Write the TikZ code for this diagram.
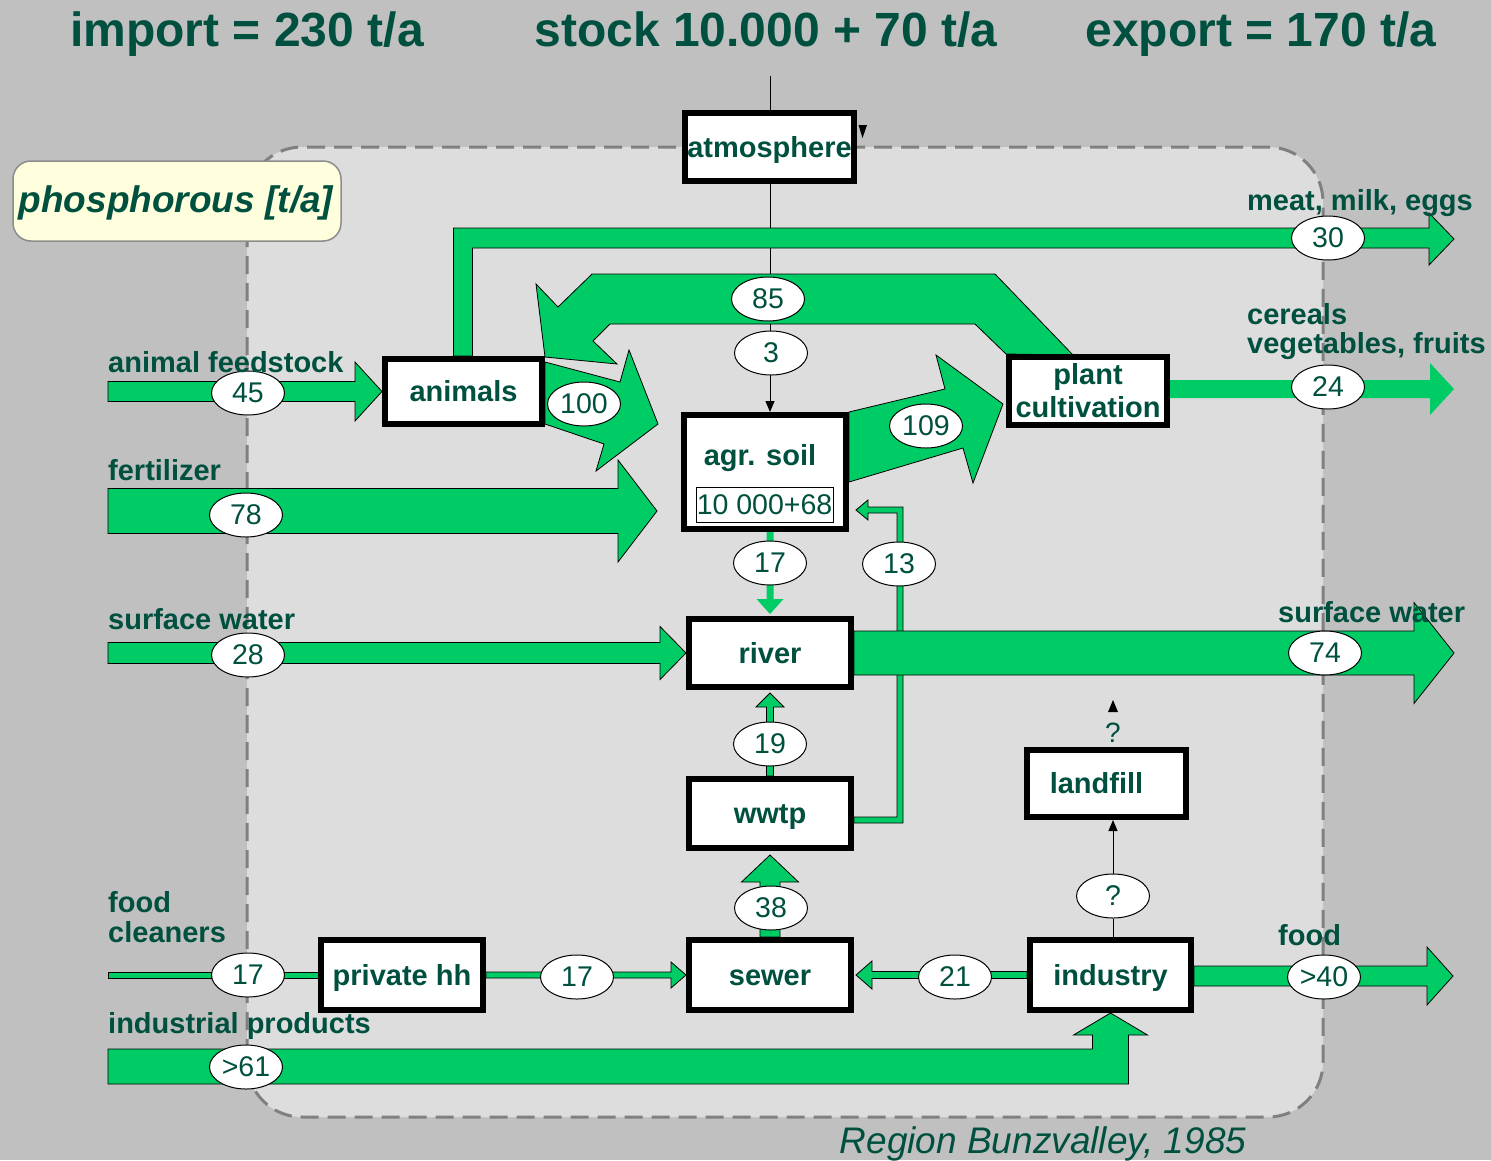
\documentclass[tikz,border=0pt]{standalone}
\usepackage{fontspec}
\setmainfont{Liberation Sans}
\usetikzlibrary{calc,shapes.geometric,arrows.meta}

\definecolor{bgouter}{RGB}{192,192,192}
\definecolor{bginner}{RGB}{221,221,221}
\definecolor{flowgreen}{RGB}{0,204,102}
\definecolor{txt}{RGB}{0,80,64}
\definecolor{dashgray}{RGB}{128,128,128}
\definecolor{notefill}{RGB}{255,255,222}

\pgfdeclarelayer{back}
\pgfdeclarelayer{flows}
\pgfsetlayers{back,flows,main}

% horizontal block arrow: tail point, tip point, shaft half width, head half width, head length (signed)
\newcommand{\hflow}[6][flow]{%
  \path[#1] let \p1=(#2), \p2=(#3) in
    ({\x1},{\y2+#4}) -- ({\x2-(#6)},{\y2+#4}) -- ({\x2-(#6)},{\y2+#5}) -- ({\x2},{\y2})
    -- ({\x2-(#6)},{\y2-#5}) -- ({\x2-(#6)},{\y2-#4}) -- ({\x1},{\y2-#4}) -- cycle;}
% vertical block arrow: tail point, tip point, shaft half width, head half width, head length (signed)
\newcommand{\vflow}[6][flow]{%
  \path[#1] let \p1=(#2), \p2=(#3) in
    ({\x2+#4},{\y1}) -- ({\x2+#4},{\y2-(#6)}) -- ({\x2+#5},{\y2-(#6)}) -- ({\x2},{\y2})
    -- ({\x2-#5},{\y2-(#6)}) -- ({\x2-#4},{\y2-(#6)}) -- ({\x2-#4},{\y1}) -- cycle;}

\begin{document}
\begin{tikzpicture}[x=1pt,y=-1pt,
  region/.style={fill=bginner,draw=dashgray,line width=3pt,dash pattern=on 18pt off 9pt,rounded corners=55pt},
  procbox/.style={draw=black,line width=6pt,fill=white,inner sep=0pt,text=txt,
    font=\fontsize{29}{34}\selectfont\bfseries,align=center},
  proc/.style={procbox,text height=20.5pt,text depth=0pt},
  num/.style={ellipse,draw=black,line width=1pt,fill=white,inner sep=0pt,
    minimum width=73pt,minimum height=44pt,text=txt,font=\fontsize{28.5}{30}\selectfont},
  lbl/.style={text=txt,font=\fontsize{29}{33}\selectfont\bfseries,inner sep=0pt,anchor=base west},
  headline/.style={text=txt,font=\fontsize{48}{50}\selectfont\bfseries,inner sep=0pt,anchor=base},
  flow/.style={fill=flowgreen,draw=black,line width=0.8pt,line join=miter},
  flownl/.style={fill=flowgreen,draw=none},
  thinline/.style={draw=black,line width=1pt},
  thinarrow/.style={thinline,-{Triangle[length=11pt,width=9pt]}}
]
\useasboundingbox (0,0) rectangle (1491,1160);

\begin{pgfonlayer}{back}
  \fill[bgouter] (0,0) rectangle (1491,1160);
  \draw[region] (247,147) rectangle (1323,1117);
\end{pgfonlayer}

% headlines
\node[headline] (imp) at (247,46) {import = 230 t/a};
\node[headline] (stk) at (766,46) {stock 10.000 + 70 t/a};
\node[headline] (exp) at (1261,46) {export = 170 t/a};

% unit note
\draw[draw={rgb,255:red,140;green,140;blue,140},line width=1.5pt,fill=notefill,rounded corners=18pt]
  (13,161) rectangle (341,241);
\node[text=txt,font=\fontsize{37}{40}\selectfont\bfseries\itshape,inner sep=0pt,anchor=base]
  (unit) at (176,212) {phosphorous [t/a]};

% processes
\node[proc,minimum width=169pt,minimum height=68pt] (atmo) at (769.5,147) {atmosphere};
\node[proc,minimum width=157pt,minimum height=65pt] (animals) at (463.5,391.5) {animals};
\node[proc,minimum width=162pt,minimum height=114pt] (soil) at (765,472) {};
\node[text=txt,font=\fontsize{29}{34}\selectfont\bfseries,inner sep=0pt,anchor=base] (soiltxt) at (760,465) {agr. soil};
\node[draw=black,line width=0.8pt,fill=white,inner sep=0pt,minimum width=137pt,minimum height=35pt,
  text=txt,font=\fontsize{28.5}{30}\selectfont] (soilstock) at (764.5,504.5) {10 000+68};
\node[procbox,minimum width=158pt,minimum height=68pt] (plant) at (1088,391) {plant\\[-1pt]cultivation};
\node[proc,minimum width=162pt,minimum height=68pt] (river) at (770,653) {river};
\node[proc,minimum width=162pt,minimum height=69pt] (wwtp) at (770,813.5) {wwtp};
\node[proc,minimum width=159pt,minimum height=67pt] (landfill) at (1106.5,783.5) {landfill\hspace*{20pt}};
\node[proc,minimum width=162pt,minimum height=70pt] (hh) at (402,975) {private hh};
\node[proc,minimum width=162pt,minimum height=70pt] (sewer) at (770,975) {sewer};
\node[proc,minimum width=161pt,minimum height=70pt] (industry) at (1110.5,975) {industry};

% free ends of the flows
\coordinate (atmtop) at (770,76);
\coordinate (feedsrc) at (108,393);
\coordinate (fertsrc) at (108,511);
\coordinate (ferttip) at (657,511);
\coordinate (swsrc) at (108,653);
\coordinate (swtip) at (1454,653);
\coordinate (meattip) at (1454,239);
\coordinate (croptip) at (1454,389);
\coordinate (fcsrc) at (108,975);
\coordinate (foodtip) at (1453,976);
\coordinate (ipsrc) at (108,1067);
\coordinate (r13) at (900,820);
\coordinate (t13) at (856,510);

% flow labels
\node[num] (n45) at (248,393) {45};
\node[num] (n78) at (246,515) {78};
\node[num] (n28) at (248,655) {28};
\node[num] (n17a) at (248,975) {17};
\node[num] (n61) at (246,1067) {>61};
\node[num] (n100) at (584,404) {100};
\node[num] (n85) at (768,299) {85};
\node[num] (n3) at (771,353) {3};
\node[num] (n109) at (926,426) {109};
\node[num] (n30) at (1328,238) {30};
\node[num] (n24) at (1328,387) {24};
\node[num] (n17b) at (770,563) {17};
\node[num] (n13) at (899,564) {13};
\node[num] (n74) at (1325,653) {74};
\node[num] (n19) at (770,744) {19};
\node[num] (n38) at (771,908) {38};
\node[num] (n17c) at (577,977) {17};
\node[num] (n21) at (955,977) {21};
\node[num] (nq) at (1113,896) {?};
\node[num] (n40) at (1324,977) {>40};

% flow names
\node[lbl] (l1) at (108,372) {animal feedstock};
\node[lbl] (l2) at (108,480) {fertilizer};
\node[lbl] (l3) at (108,629) {surface water};
\node[lbl] (l4) at (108,912) {food};
\node[lbl] (l5) at (108,942) {cleaners};
\node[lbl] (l6) at (108,1033) {industrial products};
\node[lbl] (r1) at (1247,210) {meat, milk, eggs};
\node[lbl] (r2) at (1247,324) {cereals};
\node[lbl] (r3) at (1247,353) {vegetables, fruits};
\node[lbl] (r4) at (1278,622) {surface water};
\node[lbl] (r5) at (1278,945) {food};
\node[text=txt,font=\fontsize{28}{30}\selectfont,inner sep=0pt] (lfq) at (1113,733) {?};
\node[text=txt,font=\fontsize{37}{40}\selectfont\itshape,inner sep=0pt,anchor=base] (region) at (1043,1153)
  {Region Bunzvalley, 1985};

\begin{pgfonlayer}{flows}
  % thin exchange lines
  \draw[thinarrow] (atmtop) -- (atmtop |- soil.north);
  \fill (858.5,125) -- (867,125) -- (862.5,138) -- cycle;
  \draw[thinline] (industry.north -| nq) -- (nq.south);
  \draw[thinarrow] (nq.north) -- (nq |- landfill.south);
  \fill (1108,712) -- (1118,712) -- (1113,700) -- cycle;

  % animals to export
  \path[flow] let \p1=(animals.north), \p2=(meattip) in
    ({\x1-10},{\y1}) -- ({\x1-10},{\y2+11}) -- ({\x2-25},{\y2+11}) -- ({\x2-25},{\y2+26}) -- ({\x2},{\y2})
    -- ({\x2-25},{\y2-26}) -- ({\x2-25},{\y2-9}) -- ({\x1+9},{\y2-9}) -- ({\x1+9},{\y1}) -- cycle;
  % plant cultivation back to animals
  \path[flow] ($(plant.north west)+(67,1)$) -- (995,274) -- (592,274) -- (558,307) -- (536,284)
    -- (545,357) -- (617,364) -- (593,341) -- (610,324) -- (975,324) -- (plant.north west) -- cycle;
  % animals to soil
  \path[flow] ($(animals.north east)+(0,6)$) -- (620,382) -- (629,350) -- (658,424) -- (596,471)
    -- (604,444) -- ($(animals.north east)+(0,68)$) -- cycle;
  % soil to plant cultivation
  \path[flow] (soil.north east) -- (945,389) -- (936,355) -- (1003,404) -- (973,483) -- (963,448)
    -- ($(soil.north east)+(0,70)$) -- cycle;

  % imports
  \hflow{feedsrc}{animals.west}{10}{29.5}{27}
  \hflow{fertsrc}{ferttip}{22.5}{51}{39}
  \hflow{swsrc}{river.west}{10.5}{26.5}{26}
  \path[flow] let \p1=(fcsrc), \p2=(hh.west) in ({\x1},{\y1+3}) rectangle ({\x2},{\y1-3});
  \path[flow] let \p1=(ipsrc), \p2=(industry.south) in
    ({\x1},{\y1+18}) -- ({\x2-18},{\y1+18}) -- ({\x2-18},{\y2-22}) -- ({\x2-37},{\y2-22}) -- ({\x2},{\y2})
    -- ({\x2+37},{\y2-22}) -- ({\x2+18},{\y2-22}) -- ({\x2+18},{\y1-17}) -- ({\x1},{\y1-17}) -- cycle;

  % internal flows
  \vflow[flownl]{soil.south}{$(river.north)+(0,-2)$}{3.5}{13.5}{-15}
  \path[flow] let \p1=(wwtp.east), \p2=(r13), \p3=(t13) in
    ({\x1},{\y2+3}) -- ({\x2-3},{\y2+3}) -- ({\x2-3},{\y3-3}) -- ({\x3+12},{\y3-3}) -- ({\x3+12},{\y3-10}) -- ({\x3},{\y3})
    -- ({\x3+12},{\y3+10}) -- ({\x3+12},{\y3+3}) -- ({\x2+3},{\y3+3}) -- ({\x2+3},{\y2-3}) -- ({\x1},{\y2-3}) -- cycle;
  \vflow{wwtp.north}{$(river.south)+(0,3)$}{3.5}{14}{14}
  \vflow{sewer.north}{$(wwtp.south)+(0,4)$}{10}{28.5}{27}
  \hflow{hh.east}{sewer.west}{3}{13}{15}
  \hflow{industry.west}{$(sewer.east)+(2,0)$}{3.5}{14}{-16}

  % exports
  \hflow[flownl]{plant.east}{croptip}{9}{26}{24}
  \hflow{river.east}{swtip}{22}{50.5}{40}
  \hflow{industry.east}{foodtip}{10}{29}{26}
\end{pgfonlayer}
\end{tikzpicture}
\end{document}
